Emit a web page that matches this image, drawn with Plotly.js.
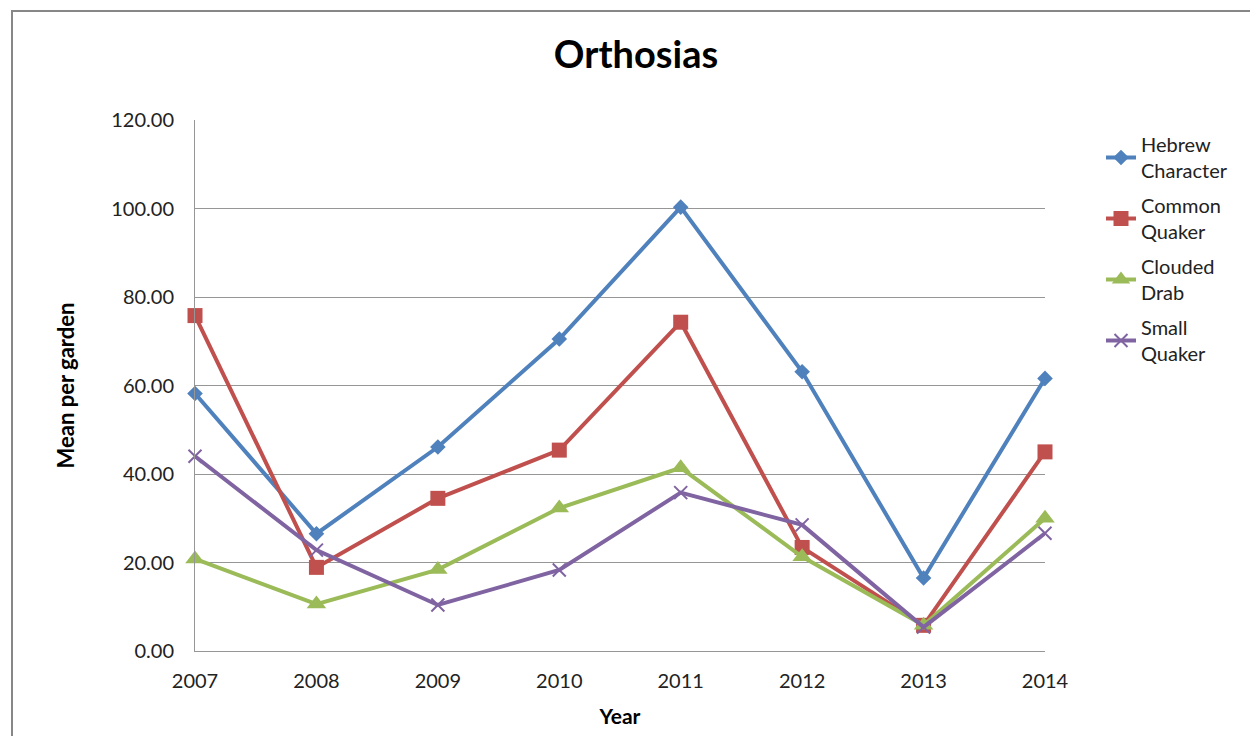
<!DOCTYPE html>
<html>
<head>
<meta charset="utf-8">
<script src="https://cdn.plot.ly/plotly-3.0.1.min.js"></script>
<style>html,body{margin:0;padding:0;background:#fff;}#chart{width:1250px;height:736px;}</style>
</head>
<body>
<div id="chart"></div>
<script>
const years = ["2007", "2008", "2009", "2010", "2011", "2012", "2013", "2014"];
const hebrewCharacter = [58.2, 26.5, 46.1, 70.5, 100.3, 63.1, 16.5, 61.6];
const commonQuaker = [75.8, 18.9, 34.5, 45.4, 74.3, 23.4, 5.8, 45.0];
const cloudedDrab = [20.8, 10.6, 18.4, 32.3, 41.4, 21.3, 5.8, 30.0];
const smallQuaker = [44.0, 22.8, 10.4, 18.3, 35.8, 28.5, 5.4, 26.6];
const seriesNames = ["Hebrew<br>Character", "Common<br>Quaker", "Clouded<br>Drab", "Small<br>Quaker"];
const yTickValues = [0, 20, 40, 60, 80, 100, 120];

const FONT = "Lato, 'Open Sans', sans-serif";
const colors = ["#4F81BD", "#C0504D", "#9BBB59", "#8064A2"];
const markers = [
  {symbol: "diamond", size: 12},
  {symbol: "square", size: 15},
  {symbol: "triangle-up", size: 17},
  {symbol: "x-thin-open", size: 13}
];
const allSeries = [hebrewCharacter, commonQuaker, cloudedDrab, smallQuaker];

const traces = allSeries.map((vals, i) => ({
  type: "scatter",
  mode: "lines+markers",
  x: years,
  y: vals,
  name: seriesNames[i],
  legendgroup: "g" + i,
  cliponaxis: false,
  line: {color: colors[i], width: 4},
  marker: Object.assign({color: colors[i], line: {color: colors[i], width: i === 3 ? 2 : 0}}, markers[i])
}));

// plot area: x 195..1045, y 120..651
const L = 195, R = 1045, T = 120, B = 651;
const px = v => (v - L) / (R - L);
const py = v => (B - v) / (B - T);

const layout = {
  width: 1250, height: 736,
  margin: {l: L, r: 1250 - R, t: T, b: 736 - B},
  paper_bgcolor: "#ffffff",
  plot_bgcolor: "#ffffff",
  font: {family: FONT, size: 20, color: "#222222"},
  showlegend: true,
  title: {
    text: "<b>Orthosias</b>",
    font: {family: FONT, size: 38, color: "#000000"},
    x: 636 / 1250, xref: "container", xanchor: "center",
    y: 1 - 55 / 736, yref: "container", yanchor: "middle"
  },
  xaxis: {
    type: "category",
    range: [0, 7],
    showgrid: false,
    zeroline: false,
    showline: true,
    linecolor: "#969696",
    linewidth: 1,
    ticks: "",
    ticklabelstandoff: 12,
    tickfont: {family: FONT, size: 20, color: "#222222"},
    automargin: false,
    title: {text: "<b>Year</b>", font: {family: FONT, size: 21, color: "#000000"}, standoff: 18}
  },
  yaxis: {
    range: [0, 120],
    tickvals: yTickValues,
    tickformat: ".2f",
    showgrid: true,
    gridcolor: "#969696",
    gridwidth: 1,
    zeroline: false,
    showline: true,
    linecolor: "#969696",
    linewidth: 1,
    ticks: "",
    ticklabelstandoff: 16,
    tickfont: {family: FONT, size: 20, color: "#222222"},
    automargin: false,
    title: {text: "<b>Mean per garden</b>", font: {family: FONT, size: 22, color: "#000000"}, standoff: 30}
  },
  legend: {
    xref: "container", yref: "container",
    x: 1101 / 1250, y: 1 - 125 / 736,
    xanchor: "left", yanchor: "top",
    font: {family: FONT, size: 20, color: "#222222"},
    bgcolor: "rgba(0,0,0,0)",
    traceorder: "grouped",
    tracegroupgap: 6
  },
  shapes: [{
    type: "path",
    xref: "paper", yref: "paper",
    path: `M ${px(1262)} ${py(11)} L ${px(12)} ${py(11)} L ${px(12)} ${py(748)}`,
    line: {color: "#878787", width: 2}
  }]
};

Plotly.newPlot("chart", traces, layout, {displayModeBar: false, staticPlot: true});
</script>
</body>
</html>
